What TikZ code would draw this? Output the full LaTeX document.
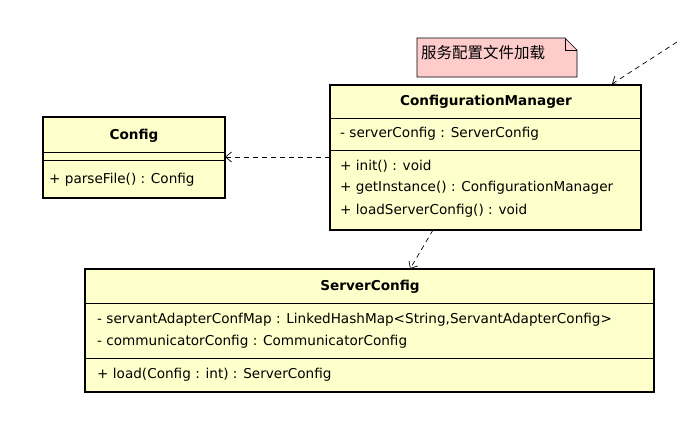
\documentclass[tikz,border=0pt]{standalone}
\usepackage{fontspec}
\setmainfont{DejaVu Sans}
\newfontfamily\cjk{Noto Sans CJK SC}
\usetikzlibrary{arrows.meta}
\definecolor{cls}{RGB}{255,255,204}
\definecolor{notec}{RGB}{255,204,204}
\begin{document}
\begin{tikzpicture}[x=1pt,y=-1pt,
  box/.style={draw=black,line width=1.6pt,fill=cls},
  sep/.style={draw=black,line width=0.6pt},
  txt/.style={anchor=west,inner sep=0pt,font=\fontsize{13.6}{14}\selectfont},
  ttl/.style={inner sep=0pt,font=\fontsize{13.6}{14}\selectfont\bfseries},
  dep/.style={draw=black,line width=0.7pt,dash pattern=on 5pt off 4pt,-{Straight Barb[length=6pt,width=10pt]}}]
\useasboundingbox (0,0) rectangle (677,447);
% Config
\draw[box] (43,117) rectangle (225,198);
\node[ttl] (cfgt) at (134,136) {Config};
\draw[sep] (43,152) -- (225,152);
\draw[sep] (43,160) -- (225,160);
\node[txt] (cfgm) at (49,180) {+ parseFile() : Config};
\coordinate (cfgR) at (225,157);
% ConfigurationManager
\draw[box] (330,85) rectangle (641,230);
\node[ttl] (cmt) at (486,102) {ConfigurationManager};
\draw[sep] (330,118) -- (641,118);
\node[txt] (cma) at (340,134) {- serverConfig : ServerConfig};
\draw[sep] (330,150) -- (641,150);
\node[txt] (cm1) at (340,166) {+ init() : void};
\node[txt] (cm2) at (340,188) {+ getInstance() : ConfigurationManager};
\node[txt] (cm3) at (340,211) {+ loadServerConfig() : void};
\coordinate (cmL) at (330,157);
\coordinate (cmB) at (433,230);
\coordinate (cmT) at (612,84);
% ServerConfig
\draw[box] (85,269) rectangle (654,392);
\node[ttl] (sct) at (370,287) {ServerConfig};
\draw[sep] (85,303) -- (654,303);
\node[txt] (sca) at (97,320) {- servantAdapterConfMap : LinkedHashMap<String,ServantAdapterConfig>};
\node[txt] (scb) at (97,342) {- communicatorConfig : CommunicatorConfig};
\draw[sep] (85,358) -- (654,358);
\node[txt] (scm) at (97,375) {+ load(Config : int) : ServerConfig};
\coordinate (scT) at (410,269);
% note
\draw[black,line width=0.6pt,fill=notec] (417,38) -- (565,38) -- (577,50) -- (577,77) -- (417,77) -- cycle;
\draw[black,line width=0.6pt] (565,38) -- (565,50) -- (577,50);
\node[anchor=west,inner sep=0pt,font=\cjk\fontsize{15.5}{16}\selectfont] (note) at (421,53) {服务配置文件加载};
% connectors
\coordinate (ext) at (677,42);
\draw[dep] (cmL) -- (cfgR);
\draw[dep] (cmB) -- (scT);
\draw[dep] (ext) -- (cmT);
\end{tikzpicture}
\end{document}
